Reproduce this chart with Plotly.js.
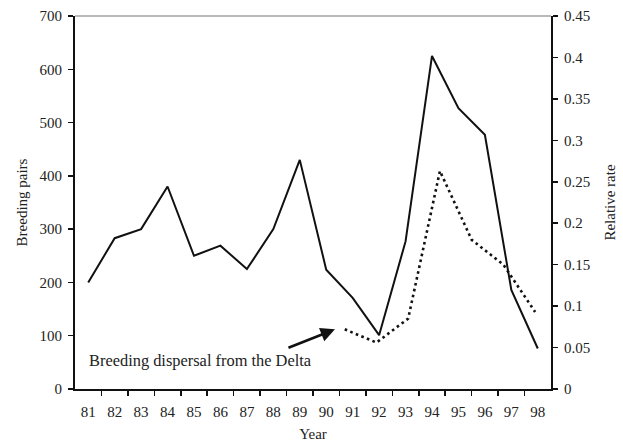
<!DOCTYPE html>
<html>
<head>
<meta charset="utf-8">
<script src="https://cdn.plot.ly/plotly-3.0.1.min.js"></script>
<style>html,body{margin:0;padding:0;background:#fff;}#chart{width:623px;height:444px;}</style>
</head>
<body>
<div id="chart"></div>
<script>
// Data
var years = [81, 82, 83, 84, 85, 86, 87, 88, 89, 90, 91, 92, 93, 94, 95, 96, 97, 98];
var yearLabels = ['81','82','83','84','85','86','87','88','89','90','91','92','93','94','95','96','97','98'];
var breedingPairs = [200, 283, 300, 380, 250, 269, 225, 300, 430, 224, 171, 101, 277, 625, 527, 477, 186, 76];
// relative rate is drawn on its own 15-slot category axis (slots 0..14)
var rateSlot = [8, 9, 10, 11, 12, 13, 14];
var relativeRate = [0.072, 0.056, 0.085, 0.263, 0.180, 0.150, 0.093];
var rightTicks = [0, 0.05, 0.1, 0.15, 0.2, 0.25, 0.3, 0.35, 0.4, 0.45];
var leftTicks = [0, 100, 200, 300, 400, 500, 600, 700];

var FONT = "'Liberation Serif', 'Times New Roman', serif";
var TXT = '#222';
var boundaries = years.slice(0, years.length - 1).map(function (y) { return y + 0.5; });

var traces = [
  {
    x: years, y: breedingPairs, type: 'scatter', mode: 'lines',
    line: {color: '#111', width: 2}, xaxis: 'x', yaxis: 'y', hoverinfo: 'skip'
  },
  {
    x: rateSlot, y: relativeRate, type: 'scatter', mode: 'lines',
    line: {color: '#111', width: 2.6, dash: '2.6px,3.4px'}, xaxis: 'x2', yaxis: 'y2', hoverinfo: 'skip'
  }
];

var layout = {
  width: 623, height: 444,
  margin: {l: 75, r: 72, t: 16, b: 55},
  paper_bgcolor: '#fff', plot_bgcolor: '#fff',
  showlegend: false,
  font: {family: FONT, size: 15, color: TXT},
  xaxis: {
    type: 'linear', range: [80.5, 98.5],
    tickvals: years, ticktext: yearLabels, ticks: '', ticklabelstandoff: 8,
    minor: {tickvals: boundaries, ticks: 'outside', ticklen: 5, tickwidth: 1.5, tickcolor: '#111', showgrid: false},
    showline: true, linecolor: '#111', linewidth: 2,
    showgrid: false, zeroline: false,
    tickfont: {family: FONT, size: 15, color: TXT},
    title: {text: 'Year', font: {family: FONT, size: 15, color: TXT}, standoff: 9}
  },
  xaxis2: {
    type: 'linear', range: [-0.5, 14.5], overlaying: 'x', visible: false
  },
  yaxis: {
    range: [0, 700], tickvals: leftTicks, ticks: 'outside', ticklen: 5, tickwidth: 1.5, tickcolor: '#111',
    ticklabelstandoff: 3,
    showline: true, linecolor: '#111', linewidth: 2,
    showgrid: false, zeroline: false,
    tickfont: {family: FONT, size: 15, color: TXT},
    title: {text: 'Breeding pairs', font: {family: FONT, size: 15, color: TXT}, standoff: 8}
  },
  yaxis2: {
    range: [0, 0.45], tickvals: rightTicks, overlaying: 'y', side: 'right',
    ticks: 'outside', ticklen: 5, tickwidth: 1.5, tickcolor: '#111',
    ticklabelstandoff: 3,
    showline: true, linecolor: '#111', linewidth: 2,
    showgrid: false, zeroline: false,
    tickfont: {family: FONT, size: 15, color: TXT},
    title: {text: 'Relative rate', font: {family: FONT, size: 15, color: TXT}, standoff: 15}
  },
  shapes: [
    {type: 'line', xref: 'paper', yref: 'paper', x0: 0, x1: 1, y0: 1, y1: 1, line: {color: '#777', width: 1.2}}
  ],
  annotations: [
    {
      text: 'Breeding dispersal from the Delta', xref: 'x', yref: 'y', x: 80.95, y: 54,
      xanchor: 'left', yanchor: 'middle', showarrow: false,
      font: {family: FONT, size: 16.4, color: TXT}
    },
    {
      text: '', xref: 'x', yref: 'y', x: 90.33, y: 112,
      showarrow: true, arrowhead: 2, arrowsize: 1.1, arrowwidth: 2.6, arrowcolor: '#111',
      ax: -48, ay: 19, standoff: 0
    }
  ]
};

Plotly.newPlot('chart', traces, layout, {displayModeBar: false, staticPlot: true});
</script>
</body>
</html>
